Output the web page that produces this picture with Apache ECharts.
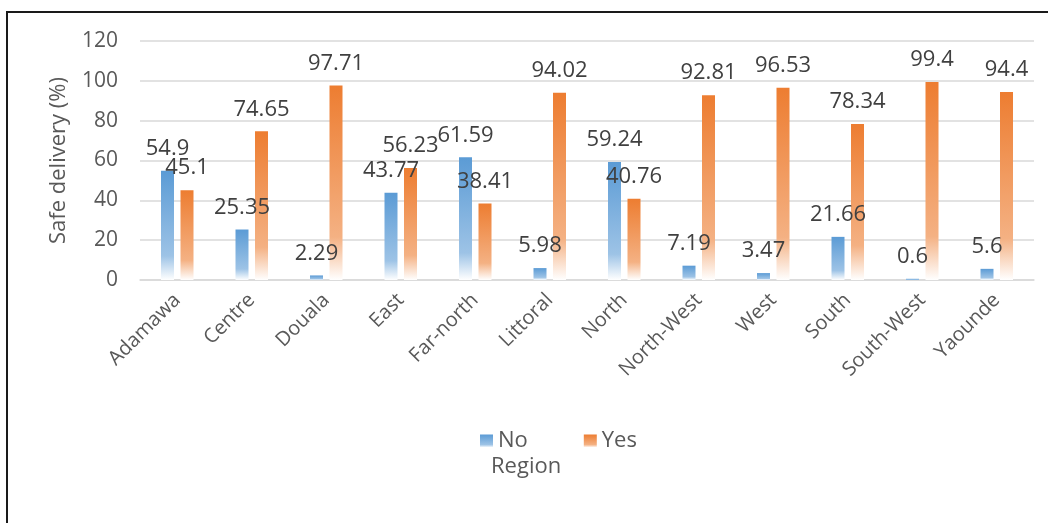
<!DOCTYPE html>
<html>
<head>
<meta charset="utf-8">
<script src="https://cdn.jsdelivr.net/npm/echarts@6/dist/echarts.min.js"></script>
<style>
  html, body { margin: 0; padding: 0; background: #fff; }
  #chart { width: 1048px; height: 523px; }
</style>
</head>
<body>
<div id="chart"></div>
<script>
// 数据
const regions = ['Adamawa', 'Centre', 'Douala', 'East', 'Far-north', 'Littoral',
  'North', 'North-West', 'West', 'South', 'South-West', 'Yaounde'];
const noValues = [54.9, 25.35, 2.29, 43.77, 61.59, 5.98, 59.24, 7.19, 3.47, 21.66, 0.6, 5.6];
const yesValues = [45.1, 74.65, 97.71, 56.23, 38.41, 94.02, 40.76, 92.81, 96.53, 78.34, 99.4, 94.4];
const yTicks = [0, 20, 40, 60, 80, 100, 120];

const font = 'Open Sans';
const axisColor = '#595959';

// 渐变填充：顶部实色，底部渐白
const fade = (top, mid) => new echarts.graphic.LinearGradient(0, 0, 0, 1, [
  { offset: 0, color: top },
  { offset: 0.78, color: mid },
  { offset: 1, color: '#ffffff' }
]);

const barLabel = {
  show: true,
  position: 'top',
  distance: 11,
  color: '#404040',
  fontFamily: font,
  fontSize: 22
};

const myChart = echarts.init(document.getElementById('chart'));
const option = {
  animation: false,
  textStyle: { fontFamily: font },
  title: {
    text: 'Region',
    left: 486,
    top: 451,
    textStyle: { color: axisColor, fontFamily: font, fontSize: 22, fontWeight: 'normal' }
  },
  legend: {
    data: ['No', 'Yes'],
    left: 475,
    top: 425,
    itemWidth: 13,
    itemHeight: 13,
    itemGap: 56,
    icon: 'rect',
    textStyle: { color: axisColor, fontFamily: font, fontSize: 22 }
  },
  grid: { left: 140, right: 14, top: 41, bottom: 243 },
  xAxis: {
    type: 'category',
    data: regions,
    axisLine: { lineStyle: { color: '#d9d9d9', width: 1.5 } },
    axisTick: { show: false },
    axisLabel: {
      rotate: 45,
      margin: 17,
      color: axisColor,
      fontFamily: font,
      fontSize: 20
    }
  },
  yAxis: {
    type: 'value',
    min: yTicks[0],
    max: yTicks[yTicks.length - 1],
    interval: 20,
    name: 'Safe delivery (%)',
    nameLocation: 'middle',
    nameGap: 70,
    nameTextStyle: { color: axisColor, fontFamily: font, fontSize: 22 },
    axisLabel: { margin: 22, color: axisColor, fontFamily: font, fontSize: 21 },
    splitLine: { lineStyle: { color: '#d9d9d9', width: 1.5 } }
  },
  series: [
    {
      name: 'No',
      type: 'bar',
      data: noValues,
      barWidth: 13,
      barGap: '50%',
      itemStyle: { color: fade('#5b9bd5', '#9dc3e6') },
      label: barLabel
    },
    {
      name: 'Yes',
      type: 'bar',
      data: yesValues,
      barWidth: 13,
      itemStyle: { color: fade('#ed7d31', '#f4b183') },
      label: barLabel
    }
  ],
  graphic: [
    {
      type: 'polyline',
      shape: { points: [[7, 523], [7, 12], [1048, 12]] },
      style: { stroke: '#1a1a1a', lineWidth: 2, fill: null }
    }
  ]
};

option && myChart.setOption(option);
</script>
</body>
</html>
